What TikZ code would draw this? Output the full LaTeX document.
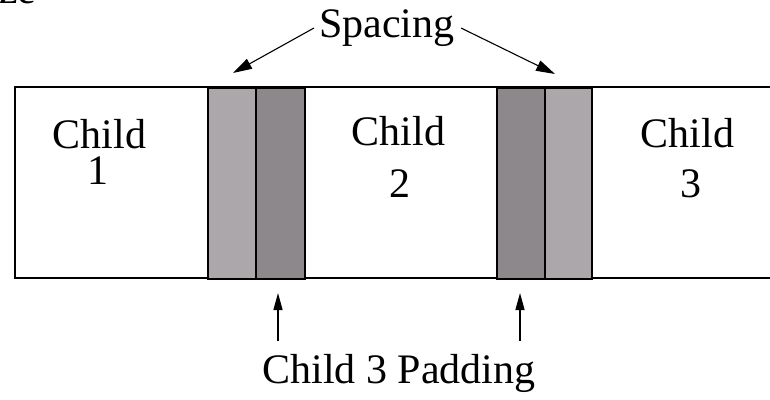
\documentclass[tikz,border=0pt]{standalone}
\usepackage{fontspec}
\setmainfont{Liberation Serif}
\usetikzlibrary{arrows.meta}
\definecolor{lightpad}{RGB}{172,167,170}
\definecolor{darkpad}{RGB}{141,136,139}
\begin{document}
\begin{tikzpicture}[x=1pt,y=-1pt,
  lbl/.style={font=\fontsize{42}{50}\selectfont, inner sep=0pt, anchor=base},
  padbox/.style={draw=black, line width=2pt, minimum width=#1, inner sep=0pt, minimum height=191pt, anchor=north west},
  bigarrow/.style={line width=1.1pt, -{Triangle[length=19pt,width=11pt]}},
  smallarrow/.style={line width=1.4pt, -{Triangle[length=17pt,width=9pt]}}
]
\useasboundingbox (0,0) rectangle (770,399);
% outer container
\draw[line width=2pt] (800,87) -- (15,87) -- (15,278) -- (800,278);
% padding / spacing boxes
\node[padbox=48pt, fill=lightpad] (l1) at (207,87) {};
\node[padbox=49pt, fill=darkpad] (d1) at (255,87) {};
\node[padbox=48pt, fill=darkpad] (d2) at (496,87) {};
\node[padbox=47pt, fill=lightpad] (l2) at (544,87) {};
% child labels
\node[lbl] (c1) at (99.5,148) {Child};
\node[lbl] (c1n) at (98,184) {1};
\node[lbl] (c2) at (398.5,145) {Child};
\node[lbl] (c2n) at (400,197) {2};
\node[lbl] (c3) at (687.5,147) {Child};
\node[lbl] (c3n) at (691,197) {3};
% cropped text at top-left
\node[lbl, anchor=base west] (ze) at (-1,3) {ze};
% Spacing label and arrows
\node[lbl] (sp) at (387,37) {Spacing};
\coordinate (spl) at (314,28);
\coordinate (spr) at (461,28);
\coordinate (tl) at (233,73);
\coordinate (tr) at (555,74);
\draw[bigarrow] (spl) -- (tl);
\draw[bigarrow] (spr) -- (tr);
% Padding label and arrows
\node[lbl] (pad) at (399,383) {Child 3 Padding};
\coordinate (pa1) at (278,341);
\coordinate (pb1) at (278,293);
\coordinate (pa2) at (520,341);
\coordinate (pb2) at (520,293);
\draw[smallarrow] (pa1) -- (pb1);
\draw[smallarrow] (pa2) -- (pb2);
\end{tikzpicture}
\end{document}
